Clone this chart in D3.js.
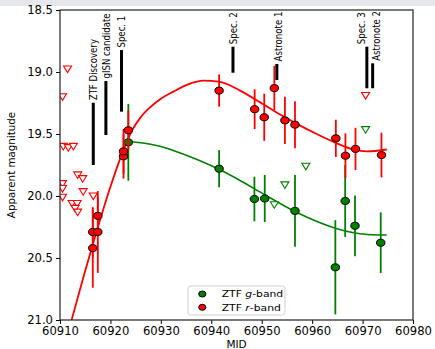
<!DOCTYPE html>
<html>
<head>
<meta charset="utf-8">
<script src="https://cdn.jsdelivr.net/npm/d3@7"></script>
<style>
  body { margin: 0; background: #fff; }
  svg { display: block; font-family: "DejaVu Sans", sans-serif; }
</style>
</head>
<body>
<script>
"use strict";

// ----------------------------------------
//  Data
// ----------------------------------------

// ZTF r-band detections
const rMjd = [60916.5, 60916.5, 60917.5, 60917.5, 60922.6, 60922.6, 60923.55, 60941.55, 60948.6,
              60950.5, 60952.5, 60954.6, 60956.6, 60964.7, 60966.6, 60968.6, 60973.75];
const rMag = [20.42, 20.29, 20.29, 20.16, 19.68, 19.64, 19.47, 19.15, 19.30,
              19.365, 19.13, 19.39, 19.425, 19.535, 19.675, 19.62, 19.67];
const rErr = [0.32, 0.2, 0.33, 0.15, 0.18, 0.18, 0.16, 0.13, 0.16,
              0.19, 0.18, 0.19, 0.19, 0.15, 0.18, 0.17, 0.18];

// ZTF g-band detections
const gMjd = [60923.55, 60941.55, 60948.55, 60950.6, 60956.6, 60964.6, 60966.55, 60968.5, 60973.6];
const gMag = [19.567, 19.78, 20.024, 20.02, 20.12, 20.575, 20.04, 20.24, 20.377];
const gErr = [0.31, 0.15, 0.18, 0.19, 0.29, 0.38, 0.29, 0.245, 0.245];

// upper limits (open triangles)
const rLimMjd = [60910.5, 60911.5, 60910.65, 60911.65, 60912.65, 60913.5, 60914.5, 60910.5, 60910.5,
                 60910.5, 60914.6, 60916.6, 60912.4, 60913.4, 60913.0, 60913.5, 60970.6];
const rLimMag = [19.2, 18.976, 19.6, 19.61, 19.6, 19.83, 19.86, 19.9, 19.94,
                 20.01, 19.965, 20.0, 20.06, 20.06, 20.1, 20.13, 19.19];
const gLimMjd = [60952.5, 60954.6, 60958.75, 60970.6];
const gLimMag = [20.07, 19.91, 19.76, 19.465];

// fitted light curves
const rFitMjd = [60912.3, 60914.76, 60917.34, 60919.92, 60922.3, 60924.3, 60926.1, 60928, 60930,
                 60932.4, 60935.4, 60938.4, 60941.75, 60945.7, 60949.7, 60952.3, 60954.6, 60956.6,
                 60960.9, 60964.9, 60968.2, 60970.85, 60974.8];
const rFitMag = [21.0, 20.637, 20.274, 19.935, 19.66, 19.47, 19.36, 19.28, 19.215,
                 19.16, 19.1, 19.07, 19.08, 19.15, 19.245, 19.31, 19.365, 19.41,
                 19.5, 19.575, 19.625, 19.64, 19.625];
const gFitMjd = [60923.5, 60926, 60930, 60934, 60938, 60941.5, 60945.7, 60950.6, 60956.6,
                 60960.6, 60964.6, 60968, 60971, 60974.8];
const gFitMag = [19.56, 19.57, 19.6, 19.655, 19.72, 19.785, 19.875, 19.99, 20.125,
                 20.2, 20.26, 20.295, 20.31, 20.315];

// event markers
const annLabels = ["ZTF Discovery", "gISN candidate", "Spec. 1", "Spec. 2", "Astronote 1", "Spec. 3", "Astronote 2"];
const annMjd    = [60916.6, 60919.1, 60922.2, 60944.3, 60953.0, 60970.85, 60972.0];
const annTop    = [19.248, 19.073, 18.823, 18.796, 18.935, 18.796, 18.93];
const annBottom = [19.75, 19.508, 19.32, 19.006, 19.065, 19.131, 19.131];

// axes
const xTicks = [60910, 60920, 60930, 60940, 60950, 60960, 60970, 60980];
const yTicks = [18.5, 19.0, 19.5, 20.0, 20.5, 21.0];

const RED = "#ff0000";
const GREEN = "#008000";

// sideways nudges (px) of a few labels so they do not collide
const labelNudge = {"Astronote 1": 1.3, "Spec. 3": -5.7, "Astronote 2": 3};

// ----------------------------------------
//  Sizing
// ----------------------------------------
const W = 435, H = 349;
const margin = {top: 10, right: 22, bottom: 29, left: 60};
const width = W - margin.left - margin.right;
const height = H - margin.top - margin.bottom;

const svgRoot = d3.select("body").append("svg")
    .attr("width", W)
    .attr("height", H);

// light slide background at the very top
svgRoot.append("rect")
    .attr("x", 0).attr("y", 0).attr("width", W).attr("height", 6)
    .attr("fill", "#e5e7ea");

const svg = svgRoot.append("g")
    .attr("transform", "translate(" + margin.left + "," + margin.top + ")");

let x = d3.scaleLinear().domain([60910, 60980]).range([0, width]);
let y = d3.scaleLinear().domain([18.5, 21.0]).range([0, height]);

svg.append("clipPath").attr("id", "plotclip")
    .append("rect").attr("width", width).attr("height", height);
const plot = svg.append("g").attr("clip-path", "url(#plotclip)");

// ----------------------------------------
//  Event markers
// ----------------------------------------
const ann = annLabels.map((t, i) => ({label: t, mjd: annMjd[i], top: annTop[i], bottom: annBottom[i]}));

svg.selectAll(".ann-line")
    .data(ann).enter().append("line")
    .attr("x1", d => x(d.mjd)).attr("x2", d => x(d.mjd))
    .attr("y1", d => y(d.top)).attr("y2", d => y(d.bottom))
    .attr("stroke", "#000").attr("stroke-width", 3);

svg.selectAll(".ann-text")
    .data(ann).enter().append("text")
    .attr("transform", d => "translate(" + (x(d.mjd) + (labelNudge[d.label] || 0)) + "," + (y(d.top) - 2.5) + ") scale(1.25,1) rotate(-90)")
    .attr("dy", "0.36em")
    .attr("font-size", 8.6)
    .attr("fill", "#000")
    .text(d => d.label);

// ----------------------------------------
//  Fits
// ----------------------------------------
const line = d3.line()
    .x(d => x(d[0])).y(d => y(d[1]))
    .curve(d3.curveMonotoneX);

plot.append("path")
    .datum(rFitMjd.map((m, i) => [m, rFitMag[i]]))
    .attr("d", line)
    .attr("fill", "none").attr("stroke", RED).attr("stroke-width", 1.8);

plot.append("path")
    .datum(gFitMjd.map((m, i) => [m, gFitMag[i]]))
    .attr("d", line)
    .attr("fill", "none").attr("stroke", GREEN).attr("stroke-width", 1.6);

// ----------------------------------------
//  Upper limits
// ----------------------------------------
const tri = "M-4,-3L4,-3L0,3.6Z";
function limits(mjd, mag, color) {
    plot.selectAll(null)
        .data(mjd.map((m, i) => ({mjd: m, mag: mag[i]})))
        .enter().append("path")
        .attr("d", tri)
        .attr("transform", d => "translate(" + x(d.mjd) + "," + y(d.mag) + ")")
        .attr("fill", "#fff").attr("stroke", color).attr("stroke-width", 1.1);
}
limits(rLimMjd, rLimMag, RED);
limits(gLimMjd, gLimMag, GREEN);

// ----------------------------------------
//  Detections with error bars
// ----------------------------------------
function detections(mjd, mag, err, color) {
    const pts = mjd.map((m, i) => ({mjd: m, mag: mag[i], err: err[i]}));
    plot.selectAll(null)
        .data(pts).enter().append("line")
        .attr("x1", d => x(d.mjd)).attr("x2", d => x(d.mjd))
        .attr("y1", d => y(d.mag - d.err)).attr("y2", d => y(d.mag + d.err))
        .attr("stroke", color).attr("stroke-width", 1.8);
    plot.selectAll(null)
        .data(pts).enter().append("ellipse")
        .attr("cx", d => x(d.mjd)).attr("cy", d => y(d.mag))
        .attr("rx", 4.2).attr("ry", 3.5)
        .attr("fill", color).attr("stroke", "#000").attr("stroke-width", 1);
}
detections(gMjd, gMag, gErr, GREEN);
detections(rMjd, rMag, rErr, RED);

// ----------------------------------------
//  Axes
// ----------------------------------------
const xAxis = svg.append("g")
    .attr("transform", "translate(0," + height + ")")
    .call(d3.axisBottom(x).tickValues(xTicks).tickFormat(d3.format("d")).tickSize(4).tickPadding(3));
const yAxis = svg.append("g")
    .call(d3.axisLeft(y).tickValues(yTicks).tickFormat(d3.format(".1f")).tickSize(4).tickPadding(3));

[xAxis, yAxis].forEach(a => {
    a.select(".domain").remove();
    a.selectAll("text").attr("font-size", 11.6).attr("fill", "#000").attr("font-family", "DejaVu Sans, sans-serif");
    a.selectAll("line").attr("stroke", "#000");
});

// frame
svg.append("rect")
    .attr("width", width).attr("height", height)
    .attr("fill", "none").attr("stroke", "#222").attr("stroke-width", 1.2);

// labels
svg.append("text")
    .attr("x", width / 2).attr("y", height + 28)
    .attr("text-anchor", "middle").attr("font-size", 10.5)
    .text("MID");

svg.append("text")
    .attr("transform", "translate(" + (15.3 - margin.left) + "," + (height / 2) + ") rotate(-90)")
    .attr("text-anchor", "middle").attr("font-size", 10.3)
    .text("Apparent magnitude");

// ----------------------------------------
//  Legend
// ----------------------------------------
const legend = svg.append("g").attr("transform", "translate(" + (188 - margin.left) + "," + (286 - margin.top) + ")");
legend.append("rect")
    .attr("width", 97).attr("height", 29).attr("rx", 2.5)
    .attr("fill", "#fff").attr("fill-opacity", 0.8)
    .attr("stroke", "#d0d0d0").attr("stroke-width", 1);

const legendItems = [{color: GREEN, band: "g"}, {color: RED, band: "r"}];
legendItems.forEach((d, i) => {
    const row = legend.append("g").attr("transform", "translate(0," + (8 + i * 13.3) + ")");
    row.append("ellipse")
        .attr("cx", 14.3).attr("cy", 0).attr("rx", 3.6).attr("ry", 3)
        .attr("fill", d.color).attr("stroke", "#000").attr("stroke-width", 1);
    const t = row.append("text")
        .attr("transform", "translate(33.7,0) scale(1.15,1)")
        .attr("dy", "0.35em").attr("font-size", 9.4);
    t.append("tspan").text("ZTF ");
    t.append("tspan").attr("font-style", "italic").text(d.band);
    t.append("tspan").text("-band");
});
</script>
</body>
</html>
